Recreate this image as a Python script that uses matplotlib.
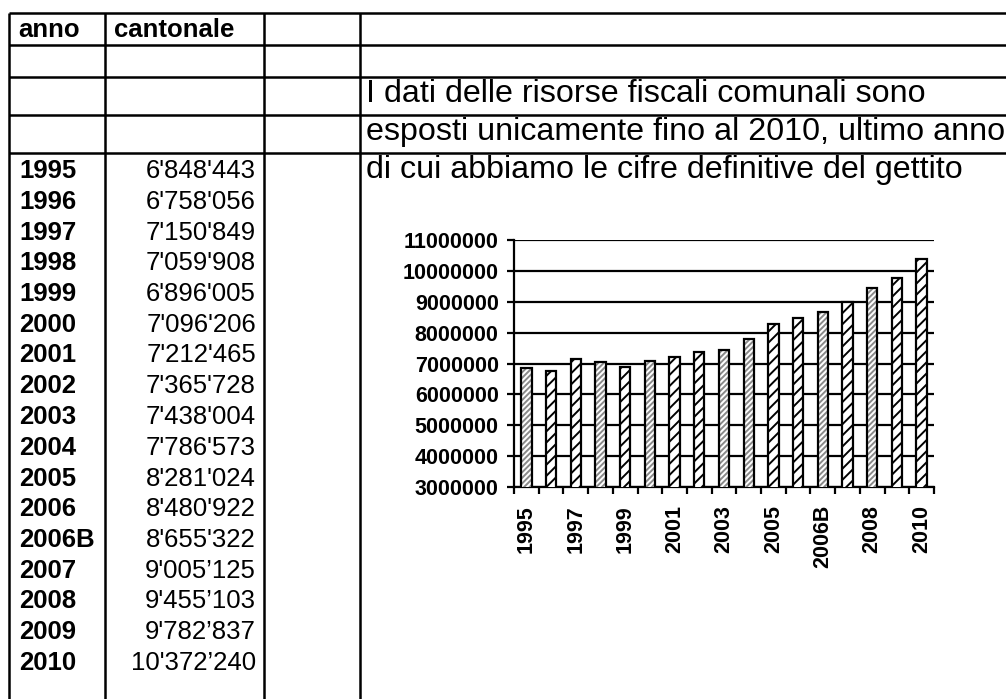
import matplotlib
matplotlib.use("Agg")
import matplotlib.pyplot as plt
import numpy as np

plt.rcParams["font.family"] = ["Liberation Sans", "DejaVu Sans"]
plt.rcParams["hatch.linewidth"] = 1.4

# dati
anni = ["1995", "1996", "1997", "1998", "1999", "2000", "2001", "2002", "2003",
        "2004", "2005", "2006", "2006B", "2007", "2008", "2009", "2010"]
cantonale = [6848443, 6758056, 7150849, 7059908, 6896005, 7096206, 7212465,
             7365728, 7438004, 7786573, 8281024, 8480922, 8655322, 9005125,
             9455103, 9782837, 10372240]
cantonale_txt = ["6'848'443", "6'758'056", "7'150'849", "7'059'908", "6'896'005",
                 "7'096'206", "7'212'465", "7'365'728", "7'438'004", "7'786'573",
                 "8'281'024", "8'480'922", "8'655'322", "9'005\u2019125",
                 "9'455\u2019103", "9'782\u2019837", "10'372\u2019240"]
intestazione = ["anno", "cantonale"]
nota = ["I dati delle risorse fiscali comunali sono",
        "esposti unicamente fino al 2010, ultimo anno",
        "di cui abbiamo le cifre definitive del gettito"]
y_ticks = [3000000, 4000000, 5000000, 6000000, 7000000, 8000000, 9000000,
           10000000, 11000000]

# tratteggio grigio (g) o nero (b) come nello screenshot
tratteggio = ["g", "b", "b", "g", "b", "g", "b", "b", "g", "g", "b", "b", "g",
              "b", "g", "b", "b"]

fig = plt.figure(figsize=(10.06, 6.99), dpi=100)

# foglio: coordinate in pixel
bg = fig.add_axes([0, 0, 1, 1])
bg.set_xlim(0, 1006)
bg.set_ylim(699, 0)
bg.axis("off")

lw_grid = 1.8
for y in [13, 44.5, 77, 114.5, 152.5]:
    bg.plot([9.5, 1006], [y, y], color="black", lw=lw_grid, solid_capstyle="butt")
for x in [9.5, 105.5, 264.5, 360]:
    bg.plot([x, x], [13, 699], color="black", lw=lw_grid, solid_capstyle="butt")

fs = 18.5
bg.text(18, 37, intestazione[0], fontsize=fs, fontweight="bold", va="baseline")
bg.text(114, 37, intestazione[1], fontsize=fs, fontweight="bold", va="baseline")

for i, (a, t) in enumerate(zip(anni, cantonale_txt)):
    y = 178 + i * 30.75
    bg.text(19, y, a, fontsize=fs, fontweight="bold", va="baseline")
    bg.text(256, y, t, fontsize=fs, ha="right", va="baseline")

for k, riga in enumerate(nota):
    bg.text(366, 102 + k * 38, riga, fontsize=23.2, va="baseline")

# grafico
ax = fig.add_axes([514 / 1006, (699 - 487) / 699, 420 / 1006, 247 / 699])
x = np.arange(len(anni))
w = 0.42
for i in range(len(anni)):
    if tratteggio[i] == "g":
        ax.bar(x[i], cantonale[i], w, color="white", hatch="//////",
               edgecolor="#8a8a8a", linewidth=0, zorder=3)
    else:
        ax.bar(x[i], cantonale[i], w, color="white", hatch="///",
               edgecolor="black", linewidth=0, zorder=3)
ax.bar(x, cantonale, w, fill=False, edgecolor="black", linewidth=1.6, zorder=4)

ax.set_xlim(-0.5, len(anni) - 0.5)
ax.set_ylim(3000000, 11000000)
ax.set_yticks(y_ticks, [str(v) for v in y_ticks])
ax.yaxis.grid(True, color="black", linewidth=1.6)
ax.set_axisbelow(True)
for s in ["top", "right"]:
    ax.spines[s].set_visible(False)
for s in ["left", "bottom"]:
    ax.spines[s].set_linewidth(1.6)

ax.tick_params(axis="y", length=5, width=1.6, labelsize=15.5, pad=6)
ax.set_xticks(x[::2], [anni[i] for i in x[::2]], rotation=90)
ax.set_xticks(np.arange(-0.5, len(anni)), minor=True)
ax.tick_params(axis="x", which="major", length=0, labelsize=15.5, pad=13)
ax.tick_params(axis="x", which="minor", length=5, width=1.6)
for lab in ax.get_xticklabels() + ax.get_yticklabels():
    lab.set_fontweight("bold")

fig.savefig("out.png", dpi=100)
